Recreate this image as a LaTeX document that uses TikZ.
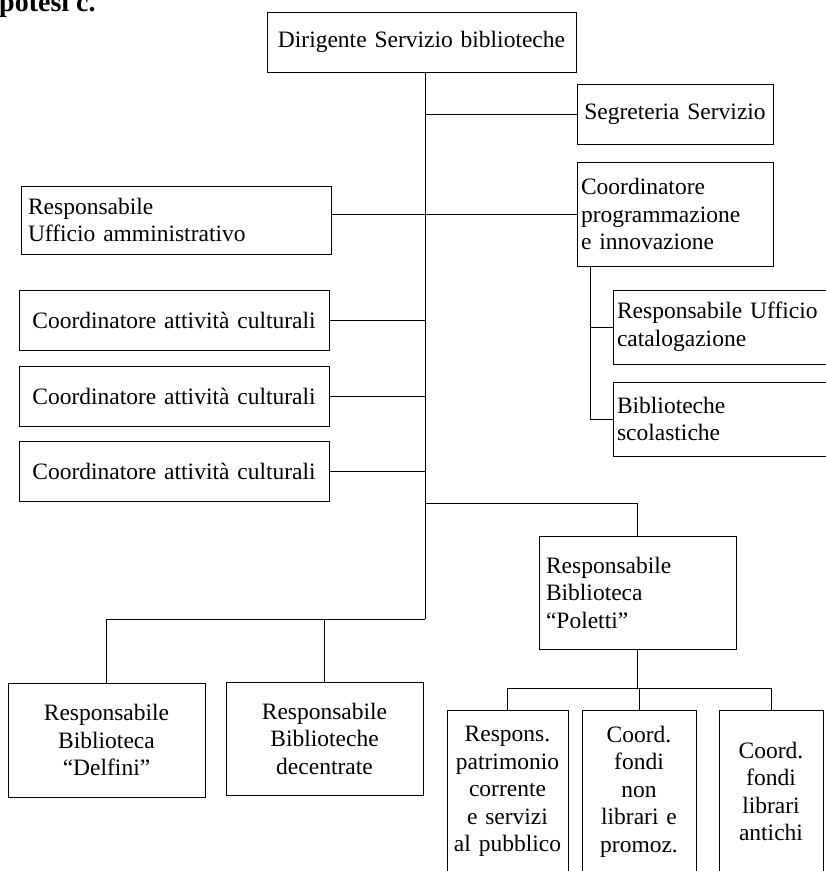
\documentclass[tikz,border=0pt]{standalone}
\usepackage{fontspec}
\setmainfont{Liberation Serif}
\begin{document}
\begin{tikzpicture}[x=1pt,y=-1pt,
  box/.style={draw, line width=1pt, inner sep=0pt, font=\fontsize{23.5}{27.5}\selectfont},
  lbox/.style={box, align=left},
  cbox/.style={box, align=center},
  conn/.style={line width=1pt}]
\useasboundingbox (0,0) rectangle (826,871);
\clip (0,0) rectangle (826,871);

\node[anchor=base west, inner sep=0pt, font=\bfseries\fontsize{28}{30}\selectfont] (title) at (-1,11.5) {potesi c.};

\node[cbox, minimum width=309pt, minimum height=60pt, text width=300pt] (dir) at (421.5,42) {Dirigente Servizio biblioteche};
\node[cbox, minimum width=196pt, minimum height=60pt, text width=188pt] (seg) at (675,114) {Segreteria Servizio};
\node[lbox, minimum width=196pt, minimum height=104pt, text width=188pt] (cprog) at (675,214) {Coordinatore\\programmazione\\e innovazione};
\node[lbox, minimum width=227pt, minimum height=74pt, text width=219pt] (ucat) at (726.5,327) {Responsabile Ufficio\\catalogazione};
\node[lbox, minimum width=227pt, minimum height=74pt, text width=219pt] (bscol) at (726.5,419) {Biblioteche\\scolastiche};
\node[lbox, minimum width=310pt, minimum height=68pt, text width=296pt] (uamm) at (176,220) {Responsabile\\Ufficio amministrativo};
\node[cbox, minimum width=310pt, minimum height=60pt, text width=300pt] (c1) at (174,320) {Coordinatore attività culturali};
\node[cbox, minimum width=310pt, minimum height=60pt, text width=300pt] (c2) at (174,396) {Coordinatore attività culturali};
\node[cbox, minimum width=310pt, minimum height=60pt, text width=300pt] (c3) at (174,471) {Coordinatore attività culturali};
\node[lbox, minimum width=197pt, minimum height=113pt, text width=183pt] (pol) at (637.5,592.5) {Responsabile\\Biblioteca\\“Poletti”};
\node[cbox, minimum width=197pt, minimum height=114pt, text width=189pt] (delf) at (106.5,740) {Responsabile\\Biblioteca\\“Delfini”};
\node[cbox, minimum width=197pt, minimum height=113pt, text width=189pt] (dec) at (324.5,738.5) {Responsabile\\Biblioteche\\decentrate};
\node[cbox, minimum width=121pt, minimum height=163pt, text width=117pt] (b1) at (507.5,791.5) {Respons.\\patrimonio\\corrente\\e servizi\\al pubblico};
\node[cbox, minimum width=114pt, minimum height=163pt, text width=110pt] (b2) at (639,791.5) {Coord.\\fondi\\non\\librari e\\promoz.};
\node[cbox, minimum width=104pt, minimum height=163pt, text width=100pt] (b3) at (771,791.5) {Coord.\\fondi\\librari\\antichi};

\coordinate (t0) at (425,619);
\coordinate (pb) at (425,503);
\coordinate (pj) at (637.5,688);
\coordinate (cs) at (590,266);

\draw[conn] (dir.south -| t0) -- (t0);
\draw[conn] (seg.west) -- (seg.west -| t0);
\draw[conn] (uamm.east |- cprog.west) -- (cprog.west);
\draw[conn] (c1.east) -- (c1.east -| t0);
\draw[conn] (c2.east) -- (c2.east -| t0);
\draw[conn] (c3.east) -- (c3.east -| t0);
\draw[conn] (pb) -| (pol.north);
\draw[conn] (delf.north) |- (t0);
\draw[conn] (dec.north) -- (dec.north |- t0);
\draw[conn] (pol.south) -- (pj);
\draw[conn] (b1.north) |- (b3.north |- pj) -- (b3.north);
\draw[conn] (b2.north) -- (b2.north |- pj);
\draw[conn] (cs) |- (bscol.west);
\draw[conn] (ucat.west) -- (ucat.west -| cs);
\end{tikzpicture}
\end{document}
